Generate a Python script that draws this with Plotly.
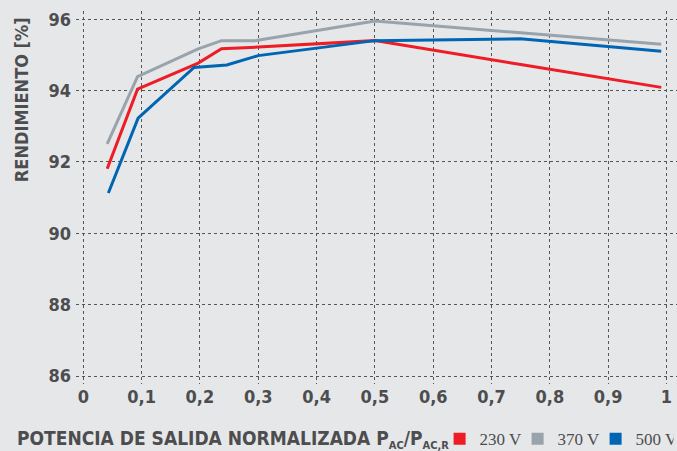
import plotly.graph_objects as go

x_230 = [0.041, 0.093, 0.197, 0.237, 0.30, 0.50, 0.75, 0.991]
y_230 = [91.81, 94.04, 94.77, 95.17, 95.22, 95.40, 94.73, 94.09]

x_370 = [0.041, 0.093, 0.197, 0.237, 0.294, 0.50, 0.75, 0.991]
y_370 = [92.51, 94.39, 95.17, 95.40, 95.40, 95.95, 95.62, 95.30]

x_500 = [0.043, 0.094, 0.19, 0.246, 0.30, 0.44, 0.50, 0.749, 0.991]
y_500 = [91.13, 93.23, 94.65, 94.72, 94.98, 95.28, 95.40, 95.45, 95.10]

series = [
    ("230 V", x_230, y_230, "#ee1c25"),
    ("370 V", x_370, y_370, "#98a3ab"),
    ("500 V", x_500, y_500, "#0065b3"),
]

x_ticks = [0, 0.1, 0.2, 0.3, 0.4, 0.5, 0.6, 0.7, 0.8, 0.9, 1]
x_ticklabels = ["0", "0,1", "0,2", "0,3", "0,4", "0,5", "0,6", "0,7", "0,8", "0,9", "1"]
y_ticks = [86, 88, 90, 92, 94, 96]

bg = "#e6e7e9"
txt = "#4d4d4f"
font_b = "DejaVu Sans Condensed"

fig = go.Figure()
for name, xs, ys, col in series:
    fig.add_trace(go.Scatter(x=xs, y=ys, mode="lines", line=dict(color=col, width=3),
                             showlegend=False, hoverinfo="skip"))
for name, xs, ys, col in series:
    fig.add_trace(go.Scatter(x=[None], y=[None], mode="markers", name=name,
                             marker=dict(symbol="square", size=11, color=col, line=dict(width=0))))

fig.update_layout(
    width=677, height=451,
    paper_bgcolor=bg, plot_bgcolor=bg,
    margin=dict(l=76, r=0, t=11, b=67, autoexpand=False),
    showlegend=True,
    legend=dict(orientation="h", x=0.605, xanchor="left", y=-0.148, yanchor="middle",
                font=dict(family="Liberation Serif", size=17, color=txt),
                itemsizing="constant", itemwidth=30, tracegroupgap=0,
                entrywidth=33, entrywidthmode="pixels",
                bgcolor="rgba(0,0,0,0)"),
    xaxis=dict(range=[-0.0125, 1.018], tickvals=x_ticks, ticktext=x_ticklabels,
               showgrid=True, gridcolor="#555", griddash="dot", gridwidth=1.3,
               zeroline=False, showline=False, ticks="",
               tickfont=dict(family=font_b, size=18, color=txt, weight="bold")),
    yaxis=dict(range=[85.78, 96.23], tickvals=y_ticks,
               showgrid=True, gridcolor="#555", griddash="dot", gridwidth=1.3,
               zeroline=False, showline=False, ticks="", ticklabelstandoff=4,
               tickfont=dict(family=font_b, size=18, color=txt, weight="bold")),
)

fig.add_annotation(text="RENDIMIENTO [%]", xref="paper", yref="paper",
                   x=-0.0915, y=0.761, xanchor="center", yanchor="middle",
                   textangle=-90, showarrow=False,
                   font=dict(family=font_b, size=18, color=txt, weight="bold"))
fig.add_annotation(text="POTENCIA DE SALIDA NORMALIZADA P<sub><span style='font-size:11px'>AC</span></sub>/P<sub><span style='font-size:11px'>AC,R</span></sub>",
                   xref="paper", yref="paper", x=-0.101, y=-0.148,
                   xanchor="left", yanchor="middle", showarrow=False,
                   font=dict(family=font_b, size=19, color=txt, weight="bold"))

fig.write_html("out.html", config={"displayModeBar": False},
               post_script="document.body.style.margin='0';")
